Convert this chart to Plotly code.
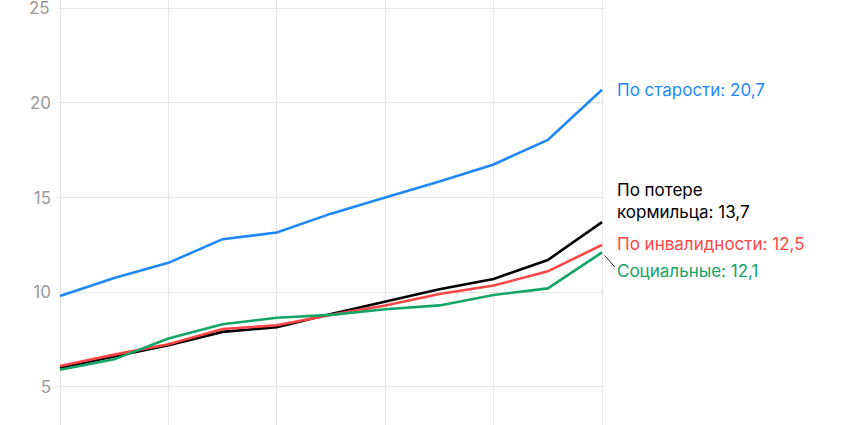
import plotly.graph_objects as go

years = [2014, 2015, 2016, 2017, 2018, 2019, 2020, 2021, 2022, 2023, 2024]
old_age = [9.8, 10.75, 11.55, 12.8, 13.15, 14.15, 15.0, 15.85, 16.75, 18.05, 20.7]
survivor = [6.0, 6.6, 7.2, 7.9, 8.15, 8.85, 9.5, 10.15, 10.7, 11.7, 13.7]
disability = [6.1, 6.7, 7.25, 8.05, 8.25, 8.8, 9.3, 9.9, 10.35, 11.1, 12.5]
social = [5.9, 6.45, 7.55, 8.3, 8.65, 8.8, 9.1, 9.3, 9.85, 10.2, 12.1]
y_ticks = [5, 10, 15, 20, 25]
y_tick_text = ["5", "10", "15", "20", "25"]

BLUE = "#1e88fa"
BLACK = "#000000"
RED = "#ff4646"
GREEN = "#13a468"
GRAY = "#999999"
FONT = "Inter, 'Noto Sans', sans-serif"

series = [
    ("По старости", old_age, BLUE),
    ("По потере кормильца", survivor, BLACK),
    ("По инвалидности", disability, RED),
    ("Социальные", social, GREEN),
]

fig = go.Figure()
for name, vals, col in series:
    fig.add_trace(go.Scatter(x=years, y=vals, mode="lines", name=name,
                             line=dict(color=col, width=2.6), hoverinfo="skip"))

def fmt(v):
    return f"{v:.1f}".replace(".", ",")

labels = [
    ("По старости: " + fmt(old_age[-1]), old_age[-1], BLUE, 0),
    ("По потере<br>кормильца: " + fmt(survivor[-1]), survivor[-1], BLACK, 21),
    ("По инвалидности: " + fmt(disability[-1]), disability[-1], RED, 1),
    ("Социальные: " + fmt(social[-1]), social[-1], GREEN, -19),
]
for text, v, col, ys in labels:
    fig.add_annotation(x=years[-1], y=v, text=text, showarrow=False,
                       xanchor="left", yanchor="middle", xshift=13, yshift=ys,
                       align="left", font=dict(family=FONT, size=17, color=col))

fig.add_annotation(x=years[-1], y=social[-1], text="", showarrow=True,
                   arrowhead=0, arrowwidth=1, arrowcolor="#222222",
                   ax=14, ay=16, standoff=4)

# top tick label (plotly hides labels overflowing the figure edge)
fig.add_annotation(x=0, xref="paper", y=y_ticks[-1], yref="y",
                   text=y_tick_text[-1], showarrow=False,
                   xanchor="right", yanchor="middle", xshift=-6,
                   font=dict(family=FONT, size=17, color=GRAY))

x_pad = 2 / 54.15
fig.update_layout(
    width=850, height=425,
    margin=dict(l=58, r=246, t=0, b=0),
    paper_bgcolor="white", plot_bgcolor="white",
    showlegend=False,
    font=dict(family=FONT, size=17, color=GRAY),
)
fig.update_xaxes(range=[years[0] - x_pad, years[-1] + x_pad], dtick=2, tick0=years[0],
                 showgrid=True, gridcolor="#e6e6e6", gridwidth=1,
                 showticklabels=False, zeroline=False, showline=False)
fig.update_yaxes(range=[2.98, 25.44], tickvals=y_ticks[:-1] + [y_ticks[-1]],
                 ticktext=y_tick_text[:-1] + [""],
                 showgrid=True, gridcolor="#e6e6e6", gridwidth=1,
                 zeroline=False, showline=False, ticks="",
                 ticklabelstandoff=6,
                 tickfont=dict(family=FONT, size=17, color=GRAY))

fig.write_html("out.html", config={"displayModeBar": False},
               post_script="document.body.style.margin='0';document.body.style.padding='0';")
